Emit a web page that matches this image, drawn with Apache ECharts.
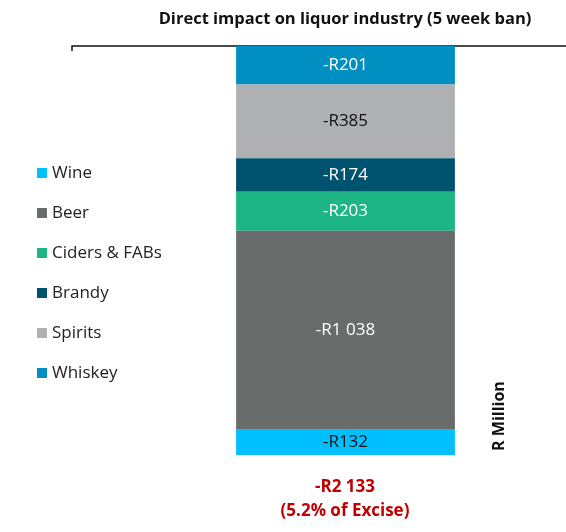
<!DOCTYPE html>
<html><head><meta charset="utf-8">
<script src="https://cdn.jsdelivr.net/npm/echarts@6/dist/echarts.min.js"></script>
<style>html,body{margin:0;padding:0;background:#fff}#c{width:566px;height:532px}</style>
</head><body><div id="c"></div>
<script>
const categories = ['Impact'];
const seriesNames = ['Wine', 'Beer', 'Ciders & FABs', 'Brandy', 'Spirits', 'Whiskey'];
const wine = [-132];
const beer = [-1038];
const ciders = [-203];
const brandy = [-174];
const spirits = [-385];
const whiskey = [-201];
const exciseShare = '5.2%';
const colors = ['#00BFFF', '#686D6C', '#1DB584', '#00536F', '#AEB0B2', '#008FC0'];
const labelColors = ['#111', '#fff', '#fff', '#fff', '#111', '#fff'];
const values = [wine, beer, ciders, brandy, spirits, whiskey];

function fmt(v) {
  const a = Math.abs(Math.round(v)).toString().replace(/\B(?=(\d{3})+(?!\d))/g, ' ');
  return (v < 0 ? '-R' : 'R') + a;
}
const total = values.reduce((s, a) => s + a[0], 0);

// negative stacks grow away from zero in series order, so stack from the top (Whiskey) down
const order = [5, 4, 3, 2, 1, 0];

const chart = echarts.init(document.getElementById('c'));
chart.setOption({
  animation: false,
  textStyle: { fontFamily: 'Open Sans' },
  title: {
    text: 'Direct impact on liquor industry (5 week ban)',
    left: 340, top: 6, textAlign: 'center',
    textStyle: { fontFamily: 'Open Sans', fontSize: 16.5, fontWeight: 'bold', color: '#111' }
  },
  legend: {
    orient: 'vertical', left: 32, top: 158,
    data: seriesNames,
    icon: 'rect', itemWidth: 10, itemHeight: 10, itemGap: 20,
    textStyle: { fontFamily: 'Open Sans', fontSize: 17, color: '#222', lineHeight: 20 }
  },
  grid: { left: 72, top: 46, width: 547, bottom: 77, outerBoundsMode: 'none', containLabel: false },
  xAxis: {
    type: 'category', data: categories, position: 'top',
    axisLine: { lineStyle: { color: '#111', width: 1.5 } },
    axisTick: { show: true, inside: true, length: 5, lineStyle: { color: '#111', width: 1.5 } },
    axisLabel: { show: false }
  },
  yAxis: {
    type: 'value', max: 0, min: total,
    axisLine: { show: false }, axisTick: { show: false },
    axisLabel: { show: false }, splitLine: { show: false }
  },
  series: order.map(i => ({
    name: seriesNames[i], type: 'bar', stack: 'total', barWidth: '40%',
    data: values[i],
    itemStyle: { color: colors[i] },
    label: {
      show: true, position: 'inside',
      formatter: p => fmt(p.value),
      color: labelColors[i], fontSize: 17, fontFamily: 'Open Sans'
    }
  })),
  graphic: [
    {
      type: 'text', x: 499, y: 416, rotation: Math.PI / 2,
      style: { text: 'R Million', fontFamily: 'Open Sans', fontSize: 16, fontWeight: 'bold',
        fill: '#111', align: 'center', verticalAlign: 'middle' }
    },
    {
      type: 'text', x: 345, y: 487,
      style: { text: fmt(total), fontFamily: 'Open Sans', fontSize: 17, fontWeight: 'bold',
        fill: '#C00000', align: 'center', verticalAlign: 'middle' }
    },
    {
      type: 'text', x: 345, y: 511,
      style: { text: '(' + exciseShare + ' of Excise)', fontFamily: 'Open Sans', fontSize: 17, fontWeight: 'bold',
        fill: '#C00000', align: 'center', verticalAlign: 'middle' }
    }
  ]
});
</script></body></html>
